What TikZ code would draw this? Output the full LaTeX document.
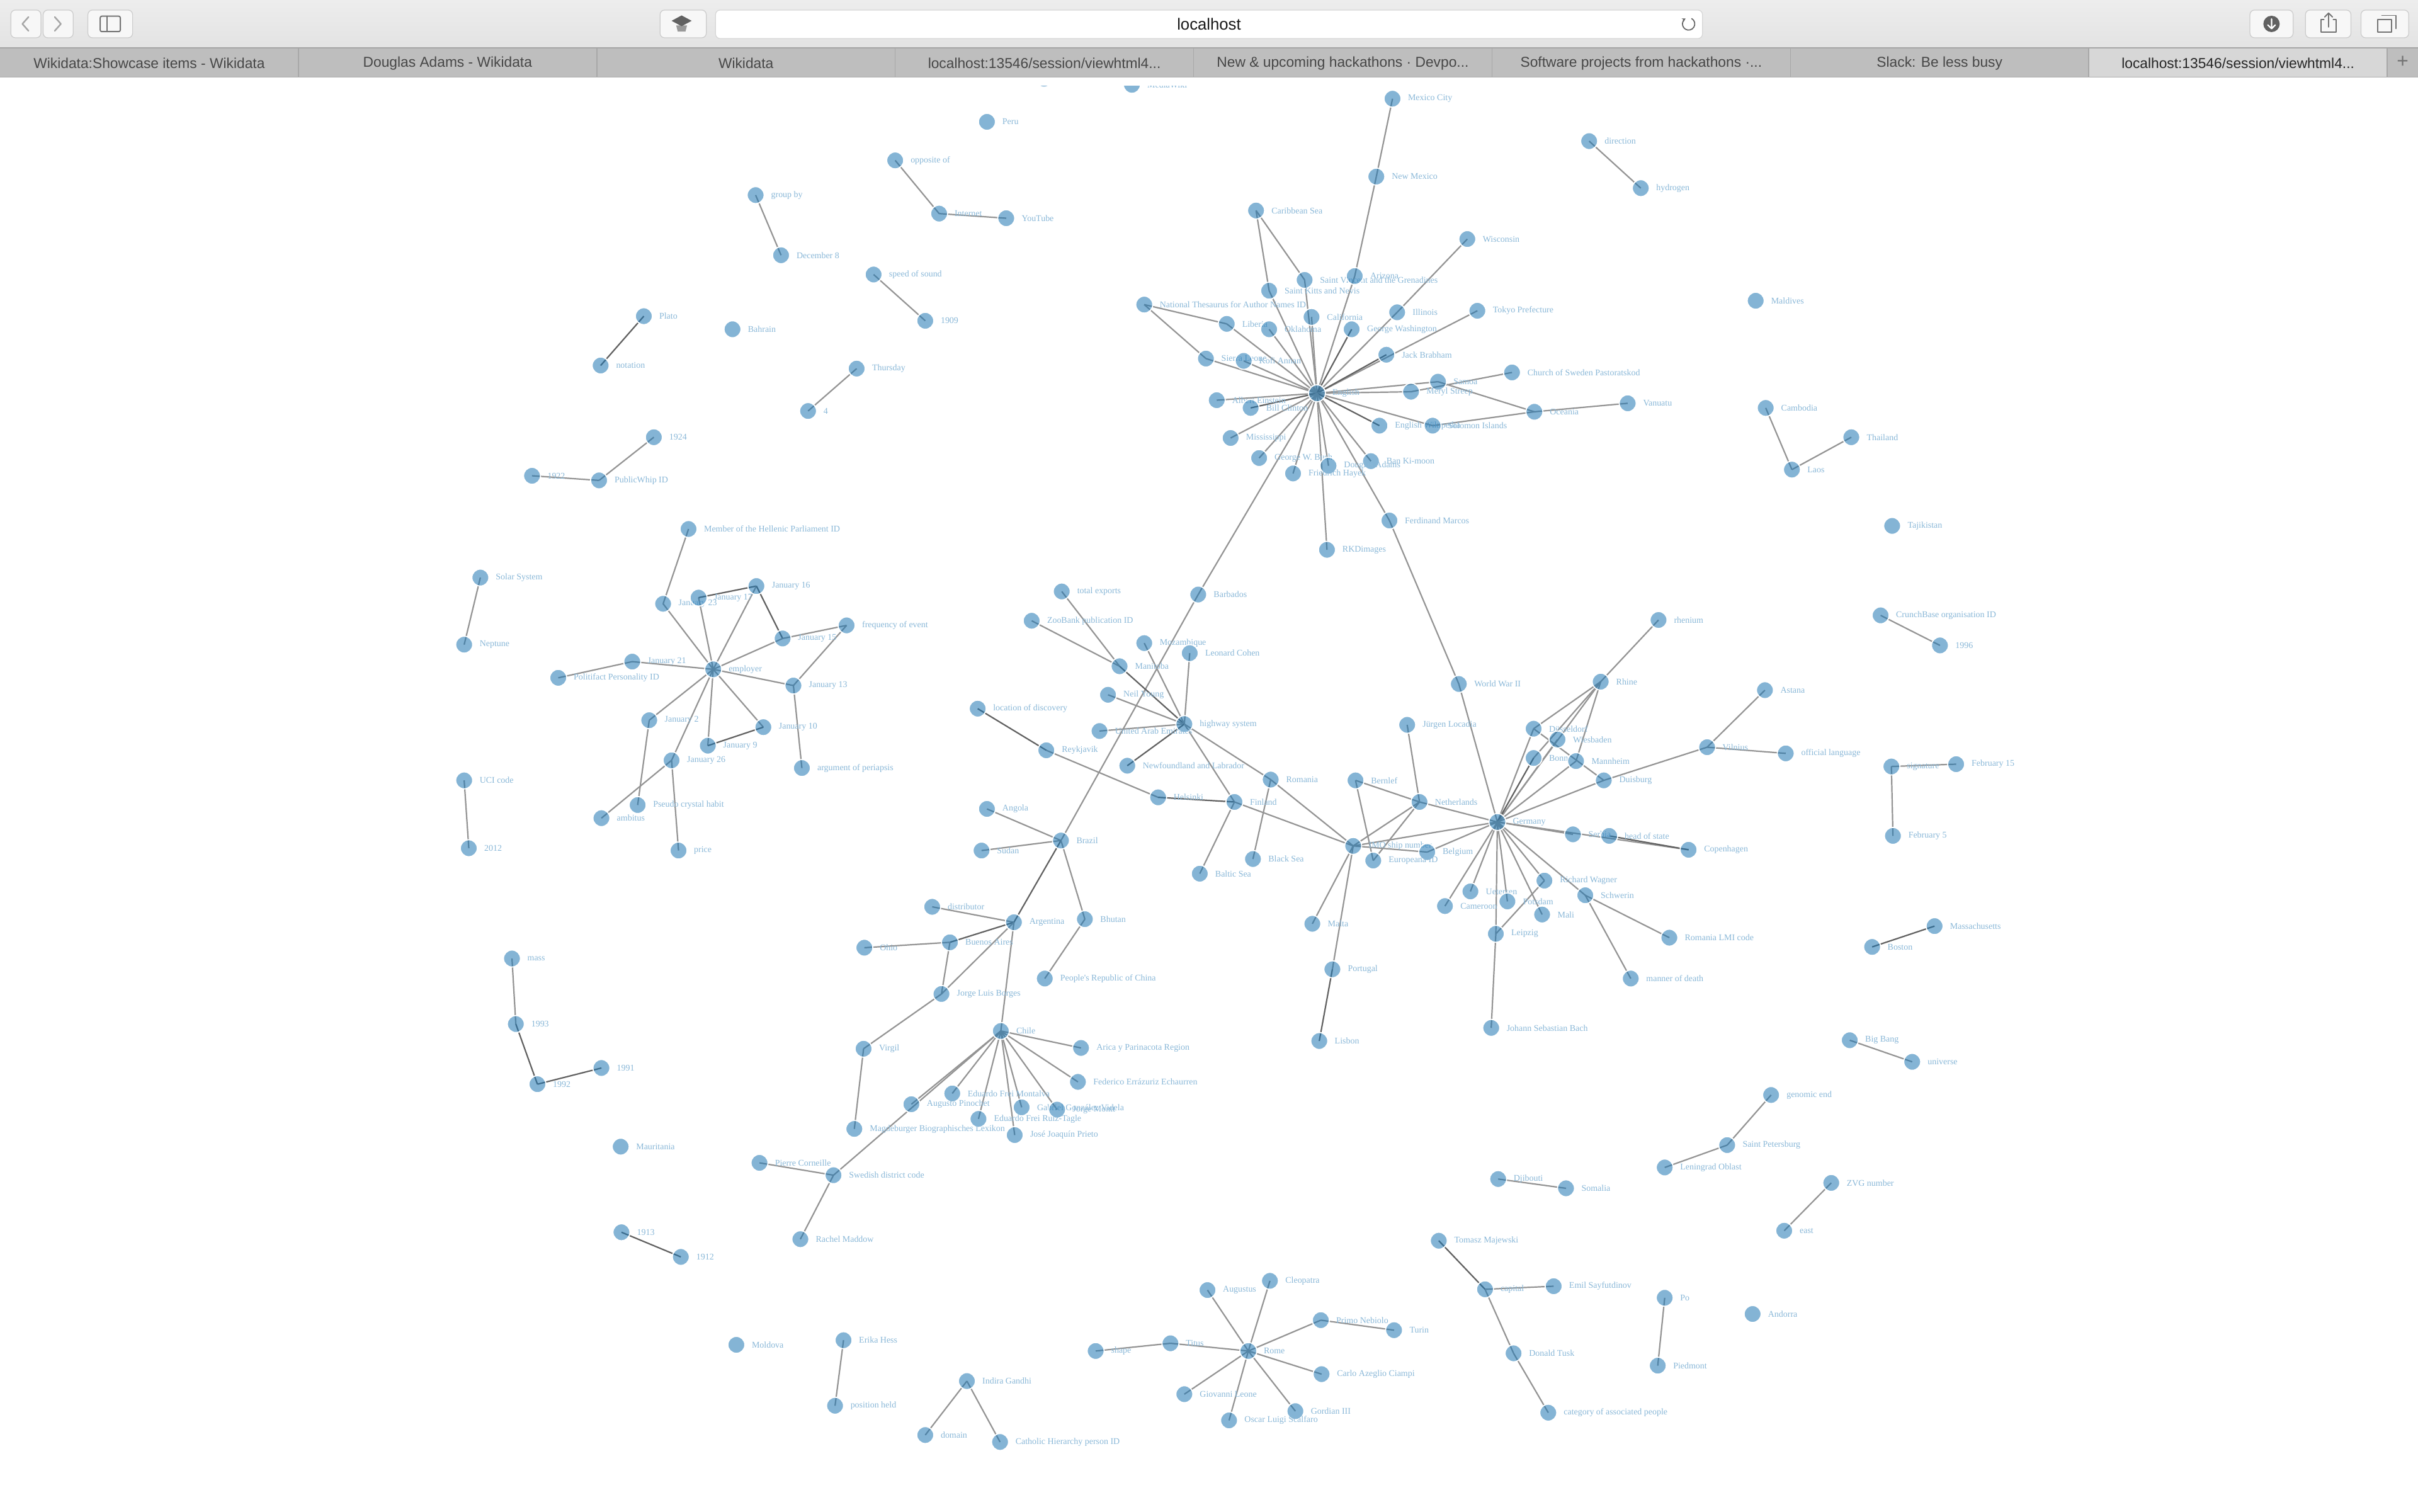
\documentclass[tikz,border=0pt]{standalone}
\usepackage{fontspec}
\usetikzlibrary{arrows.meta}
\newfontfamily\graphfont{Liberation Serif}
\newfontfamily\uifont{Liberation Sans}
\newcommand{\glabel}{\graphfont\fontsize{5.7}{6}\selectfont}
\newcommand{\tabfont}{\uifont\fontsize{9.3}{10}\selectfont}
\definecolor{nodeblue}{HTML}{1F77B4}
\colorlet{labelblue}{nodeblue!52!white}
\definecolor{toolbartop}{HTML}{EDEDED}
\definecolor{toolbarbot}{HTML}{E3E3E3}
\definecolor{tabgray}{HTML}{BEBEBE}
\definecolor{tabactive}{HTML}{D7D7D7}
\definecolor{tabsep}{HTML}{A8A8A8}
\pgfdeclarelayer{edges}
\pgfdeclarelayer{chrome}
\pgfsetlayers{edges,main,chrome}

\begin{document}
\begin{tikzpicture}[
  x=1pt, y=-1pt,
  gn/.style={circle, minimum size=11pt, inner sep=0pt, fill=nodeblue, fill opacity=0.55, draw=white, line width=0.7pt},
  lbl/.style={font=\glabel, text=labelblue, text opacity=1, inner sep=0pt, draw=none, fill=none},
  label distance=4pt,
  link/.style={draw=black!42, line width=0.9pt},
  dlink/.style={draw=black!62, line width=0.9pt},
  btn/.style={fill=white!97!black, draw=black!20, line width=0.5pt, rounded corners=3pt},
  tabtxt/.style={font=\tabfont, text=black!72, inner sep=0pt},
  icon/.style={draw=black!55, line width=1pt, line cap=round, line join=round},
]
\useasboundingbox (0,0) rectangle (1568,980);

% --- top left ---
\node[gn] (cutnode) at (677,51) {};
\node[gn, label={[lbl]right:MediaWiki}] (mediawiki) at (734,55) {};
\node[gn, label={[lbl]right:Peru}] (peru) at (640,79) {};
\node[gn, label={[lbl]right:opposite of}] (opposite) at (580.5,104) {};
\node[gn, label={[lbl]right:Internet}] (internet) at (609,138.5) {};
\node[gn, label={[lbl]right:YouTube}] (youtube) at (652.5,141.5) {};
\node[gn, label={[lbl]right:group by}] (groupby) at (490,126.5) {};
\node[gn, label={[lbl]right:December 8}] (dec8) at (506.5,165.5) {};
\node[gn, label={[lbl]right:speed of sound}] (speed) at (566.5,178) {};
\node[gn, label={[lbl]right:1909}] (y1909) at (600,208) {};
\node[gn, label={[lbl]right:Plato}] (plato) at (417.5,205) {};
\node[gn, label={[lbl]right:Bahrain}] (bahrain) at (475,213.5) {};
\node[gn, label={[lbl]right:notation}] (notation) at (389.5,237) {};
\node[gn, label={[lbl]right:Thursday}] (thursday) at (555.5,239) {};
\node[gn, label={[lbl]right:4}] (four) at (524,266.5) {};
\node[gn, label={[lbl]right:1924}] (y1924) at (424,283.5) {};
\node[gn, label={[lbl]right:1922}] (y1922) at (345,308.5) {};
\node[gn, label={[lbl]right:PublicWhip ID}] (pubwhip) at (388.5,311.5) {};

% --- employer ---
\node[gn, label={[lbl]right:Member of the Hellenic Parliament ID}] (hellenic) at (446.5,343) {};
\node[gn, label={[lbl]right:Solar System}] (solar) at (311.5,374.5) {};
\node[gn, label={[lbl]right:Neptune}] (neptune) at (301,418) {};
\node[gn, label={[lbl]right:January 23}] (jan23) at (430,391.5) {};
\node[gn, label={[lbl]right:January 17}] (jan17) at (453,387.5) {};
\node[gn, label={[lbl]right:January 16}] (jan16) at (490.5,380) {};
\node[gn, label={[lbl]right:January 15}] (jan15) at (507.5,414) {};
\node[gn, label={[lbl]right:frequency of event}] (freq) at (549,405.5) {};
\node[gn, label={[lbl]right:January 21}] (jan21) at (410,429) {};
\node[gn, label={[lbl]right:Politifact Personality ID}] (politifact) at (362,439.5) {};
\node[gn, label={[lbl]right:employer}] (employer) at (462.5,434) {};
\node[gn, label={[lbl]right:January 13}] (jan13) at (514.5,444.5) {};
\node[gn, label={[lbl]right:January 2}] (jan2) at (421,467) {};
\node[gn, label={[lbl]right:January 10}] (jan10) at (495,471.5) {};
\node[gn, label={[lbl]right:January 9}] (jan9) at (459,483.5) {};
\node[gn, label={[lbl]right:January 26}] (jan26) at (435.5,493) {};
\node[gn, label={[lbl]right:argument of periapsis}] (periapsis) at (520,498) {};
\node[gn, label={[lbl]right:UCI code}] (uci) at (301,506) {};
\node[gn, label={[lbl]right:2012}] (y2012) at (304,550) {};
\node[gn, label={[lbl]right:Pseudo crystal habit}] (pseudo) at (413.5,522) {};
\node[gn, label={[lbl]right:ambitus}] (ambitus) at (390,530.5) {};
\node[gn, label={[lbl]right:price}] (price) at (440,551.5) {};

% --- English ---
\node[gn, label={[lbl]right:Mexico City}] (mexcity) at (903,64) {};
\node[gn, label={[lbl]right:New Mexico}] (newmex) at (892.5,114.5) {};
\node[gn, label={[lbl]right:Caribbean Sea}] (carib) at (814.5,136.5) {};
\node[gn, label={[lbl]right:Wisconsin}] (wisconsin) at (951.5,155) {};
\node[gn, label={[lbl]right:direction}] (direction) at (1030.5,91.5) {};
\node[gn, label={[lbl]right:hydrogen}] (hydrogen) at (1064,122) {};
\node[gn, label={[lbl]right:Saint Vincent and the Grenadines}] (stvincent) at (846,181.5) {};
\node[gn, label={[lbl]right:Arizona}] (arizona) at (878.5,179) {};
\node[gn, label={[lbl]right:Saint Kitts and Nevis}] (stkitts) at (823,188.5) {};
\node[gn, label={[lbl]right:National Thesaurus for Author Names ID}] (natthes) at (742,197.5) {};
\node[gn, label={[lbl]right:California}] (california) at (850.5,205.5) {};
\node[gn, label={[lbl]right:Illinois}] (illinois) at (906,202.5) {};
\node[gn, label={[lbl]right:Tokyo Prefecture}] (tokyo) at (958,201.5) {};
\node[gn, label={[lbl]right:Liberia}] (liberia) at (795.5,210) {};
\node[gn, label={[lbl]right:Oklahoma}] (oklahoma) at (823,213.5) {};
\node[gn, label={[lbl]right:George Washington}] (gwashington) at (876.5,213.5) {};
\node[gn, label={[lbl]right:Jack Brabham}] (brabham) at (899,230) {};
\node[gn, label={[lbl]right:Sierra Leone}] (sierra) at (782,232.5) {};
\node[gn, label={[lbl]right:Kofi Annan}] (kofi) at (806.5,234) {};
\node[gn, label={[lbl]right:Church of Sweden Pastoratskod}] (church) at (980.5,241.5) {};
\node[gn, label={[lbl]right:Samoa}] (samoa) at (932.5,247.5) {};
\node[gn, label={[lbl]right:Meryl Streep}] (meryl) at (915,254) {};
\node[gn, label={[lbl]right:English}] (english) at (854,255) {};
\node[gn, label={[lbl]right:Albert Einstein}] (einstein) at (789,259.5) {};
\node[gn, label={[lbl]right:Bill Clinton}] (clinton) at (811,264.5) {};
\node[gn, label={[lbl]right:Vanuatu}] (vanuatu) at (1055.5,261.5) {};
\node[gn, label={[lbl]right:Oceania}] (oceania) at (995,267) {};
\node[gn, label={[lbl]right:English Wikipedia}] (enwiki) at (894.5,276) {};
\node[gn, label={[lbl]right:Solomon Islands}] (solomon) at (929,276) {};
\node[gn, label={[lbl]right:Mississippi}] (mississippi) at (798,284) {};
\node[gn, label={[lbl]right:George W. Bush}] (bush) at (816.5,297) {};
\node[gn, label={[lbl]right:Ban Ki-moon}] (bankimoon) at (889,299) {};
\node[gn, label={[lbl]right:Douglas Adams}] (dadams) at (861.5,302) {};
\node[gn, label={[lbl]right:Friedrich Hayek}] (hayek) at (838.5,307) {};
\node[gn, label={[lbl]right:Ferdinand Marcos}] (marcos) at (901,337.5) {};
\node[gn, label={[lbl]right:RKDimages}] (rkd) at (860.5,356.5) {};

% --- right side ---
\node[gn, label={[lbl]right:Maldives}] (maldives) at (1138.5,195) {};
\node[gn, label={[lbl]right:Cambodia}] (cambodia) at (1145,264.5) {};
\node[gn, label={[lbl]right:Thailand}] (thailand) at (1200.5,283.5) {};
\node[gn, label={[lbl]right:Laos}] (laos) at (1162,304.5) {};
\node[gn, label={[lbl]right:Tajikistan}] (tajikistan) at (1227,341) {};
\node[gn, label={[lbl]right:CrunchBase organisation ID}] (crunchbase) at (1219.5,399) {};
\node[gn, label={[lbl]right:1996}] (y1996) at (1258,418.5) {};
\node[gn, label={[lbl]right:signature}] (signature) at (1226.5,497) {};
\node[gn, label={[lbl]right:February 15}] (feb15) at (1268.5,495.5) {};
\node[gn, label={[lbl]right:February 5}] (feb5) at (1227.5,542) {};
\node[gn, label={[lbl]right:Massachusetts}] (massachusetts) at (1254.5,600.5) {};
\node[gn, label={[lbl]right:Boston}] (boston) at (1214,614) {};
\node[gn, label={[lbl]right:Big Bang}] (bigbang) at (1199.5,674.5) {};
\node[gn, label={[lbl]right:universe}] (universe) at (1240,688.5) {};
\node[gn, label={[lbl]right:genomic end}] (genomic) at (1148.5,710) {};
\node[gn, label={[lbl]right:Saint Petersburg}] (stpete) at (1120,742.5) {};
\node[gn, label={[lbl]right:Leningrad Oblast}] (leningrad) at (1079.5,757) {};
\node[gn, label={[lbl]right:ZVG number}] (zvg) at (1187.5,767) {};
\node[gn, label={[lbl]right:east}] (east) at (1157,798) {};
\node[gn, label={[lbl]right:Po}] (po) at (1079.5,841.5) {};
\node[gn, label={[lbl]right:Andorra}] (andorra) at (1136.5,852) {};
\node[gn, label={[lbl]right:Piedmont}] (piedmont) at (1075,885.5) {};

% --- highway system ---
\node[gn, label={[lbl]right:total exports}] (totalexp) at (688.5,383.5) {};
\node[gn, label={[lbl]right:Barbados}] (barbados) at (777,385.5) {};
\node[gn, label={[lbl]right:ZooBank publication ID}] (zoobank) at (669,402.5) {};
\node[gn, label={[lbl]right:Mozambique}] (mozambique) at (742,417) {};
\node[gn, label={[lbl]right:Leonard Cohen}] (cohen) at (771.5,423.5) {};
\node[gn, label={[lbl]right:Manitoba}] (manitoba) at (726,432) {};
\node[gn, label={[lbl]right:World War II}] (wwii) at (946,443.5) {};
\node[gn, label={[lbl]right:Neil Young}] (neilyoung) at (718.5,450.5) {};
\node[gn, label={[lbl]right:location of discovery}] (locdisc) at (634,459.5) {};
\node[gn, label={[lbl]right:highway system}] (highway) at (768,469.5) {};
\node[gn, label={[lbl]right:Jürgen Locadia}] (jurgen) at (912.5,470) {};
\node[gn, label={[lbl]right:United Arab Emirates}] (uae) at (713,474) {};
\node[gn, label={[lbl]right:Reykjavik}] (reykjavik) at (678.5,486.5) {};
\node[gn, label={[lbl]right:Newfoundland and Labrador}] (newfound) at (731,496.5) {};
\node[gn, label={[lbl]right:Romania}] (romania) at (824,505.5) {};
\node[gn, label={[lbl]right:Bernlef}] (bernlef) at (879,506) {};
\node[gn, label={[lbl]right:Helsinki}] (helsinki) at (751,517) {};
\node[gn, label={[lbl]right:Finland}] (finland) at (800.5,520) {};
\node[gn, label={[lbl]right:Netherlands}] (netherlands) at (920.5,520) {};
\node[gn, label={[lbl]right:Angola}] (angola) at (640,524.5) {};
\node[gn, label={[lbl]right:Brazil}] (brazil) at (688,545) {};
\node[gn, label={[lbl]right:IMO ship number}] (imo) at (877.5,548.5) {};
\node[gn, label={[lbl]right:Sudan}] (sudan) at (636.5,551.5) {};
\node[gn, label={[lbl]right:Belgium}] (belgium) at (925.5,552.5) {};
\node[gn, label={[lbl]right:Black Sea}] (blacksea) at (812.5,557) {};
\node[gn, label={[lbl]right:Europeana ID}] (europeana) at (890.5,558) {};
\node[gn, label={[lbl]right:Baltic Sea}] (balticsea) at (778,566.5) {};

% --- Germany ---
\node[gn, label={[lbl]right:rhenium}] (rhenium) at (1075.5,402) {};
\node[gn, label={[lbl]right:Rhine}] (rhine) at (1038,442) {};
\node[gn, label={[lbl]right:Astana}] (astana) at (1144.5,447.5) {};
\node[gn, label={[lbl]right:Düsseldorf}] (dusseldorf) at (994.5,472.5) {};
\node[gn, label={[lbl]right:Wiesbaden}] (wiesbaden) at (1010,479.5) {};
\node[gn, label={[lbl]right:Vilnius}] (vilnius) at (1107,484.5) {};
\node[gn, label={[lbl]right:official language}] (official) at (1158,488.5) {};
\node[gn, label={[lbl]right:Bonn}] (bonn) at (994.5,491.5) {};
\node[gn, label={[lbl]right:Mannheim}] (mannheim) at (1022,493.5) {};
\node[gn, label={[lbl]right:Duisburg}] (duisburg) at (1040,506) {};
\node[gn, label={[lbl]right:Germany}] (germany) at (971,533) {};
\node[gn, label={[lbl]right:Serbia}] (serbia) at (1020,541) {};
\node[gn, label={[lbl]right:head of state}] (headstate) at (1043.5,542) {};
\node[gn, label={[lbl]right:Copenhagen}] (copenhagen) at (1095,551) {};
\node[gn, label={[lbl]right:Richard Wagner}] (wagner) at (1001.5,571) {};
\node[gn, label={[lbl]right:Uetersen}] (uetersen) at (953.5,578) {};
\node[gn, label={[lbl]right:Schwerin}] (schwerin) at (1028,580.5) {};
\node[gn, label={[lbl]right:Potsdam}] (potsdam) at (977.5,584.5) {};
\node[gn, label={[lbl]right:Cameroon}] (cameroon) at (937,587.5) {};
\node[gn, label={[lbl]right:Mali}] (mali) at (1000,593) {};
\node[gn, label={[lbl]right:Malta}] (malta) at (851,599) {};
\node[gn, label={[lbl]right:Leipzig}] (leipzig) at (970,605.5) {};
\node[gn, label={[lbl]right:Romania LMI code}] (lmicode) at (1082.5,608) {};
\node[gn, label={[lbl]right:Portugal}] (portugal) at (864,628.5) {};
\node[gn, label={[lbl]right:manner of death}] (deathmanner) at (1057.5,634.5) {};
\node[gn, label={[lbl]right:Johann Sebastian Bach}] (bach) at (967,666.5) {};
\node[gn, label={[lbl]right:Lisbon}] (lisbon) at (855.5,675) {};

% --- Chile ---
\node[gn, label={[lbl]right:distributor}] (distributor) at (604.5,588) {};
\node[gn, label={[lbl]right:Bhutan}] (bhutan) at (703.5,596) {};
\node[gn, label={[lbl]right:Argentina}] (argentina) at (657.5,598) {};
\node[gn, label={[lbl]right:Buenos Aires}] (buenosaires) at (616,611) {};
\node[gn, label={[lbl]right:Ohio}] (ohio) at (560.5,614.5) {};
\node[gn, label={[lbl]right:People's Republic of China}] (prc) at (677.5,634.5) {};
\node[gn, label={[lbl]right:Jorge Luis Borges}] (borges) at (610.5,644.5) {};
\node[gn, label={[lbl]right:Chile}] (chile) at (649,668.5) {};
\node[gn, label={[lbl]right:Virgil}] (virgil) at (560,680) {};
\node[gn, label={[lbl]right:Arica y Parinacota Region}] (arica) at (701,679.5) {};
\node[gn, label={[lbl]right:Federico Errázuriz Echaurren}] (federico) at (699,701.5) {};
\node[gn, label={[lbl]right:Eduardo Frei Montalva}] (montalva) at (617.5,709) {};
\node[gn, label={[lbl]right:Augusto Pinochet}] (pinochet) at (591,716) {};
\node[gn, label={[lbl]right:Gabriel González Videla}] (gonzalez) at (662.5,718) {};
\node[gn, label={[lbl]right:Jorge Montt}] (montt) at (685.5,719.5) {};
\node[gn, label={[lbl]right:Eduardo Frei Ruiz-Tagle}] (ruiztagle) at (634.5,725.5) {};
\node[gn, label={[lbl]right:Magdeburger Biographisches Lexikon}] (magdeburger) at (554,732) {};
\node[gn, label={[lbl]right:José Joaquín Prieto}] (prieto) at (658,736) {};
\node[gn, label={[lbl]right:Pierre Corneille}] (corneille) at (492.5,754) {};
\node[gn, label={[lbl]right:Swedish district code}] (swedish) at (540.5,762) {};
\node[gn, label={[lbl]right:Rachel Maddow}] (maddow) at (519,803.5) {};

% --- bottom left ---
\node[gn, label={[lbl]right:mass}] (mass) at (332,621.5) {};
\node[gn, label={[lbl]right:1993}] (y1993) at (334.5,664) {};
\node[gn, label={[lbl]right:1991}] (y1991) at (390,692.5) {};
\node[gn, label={[lbl]right:1992}] (y1992) at (348.5,703) {};
\node[gn, label={[lbl]right:Mauritania}] (mauritania) at (402.5,743.5) {};
\node[gn, label={[lbl]right:1913}] (y1913) at (403,799) {};
\node[gn, label={[lbl]right:1912}] (y1912) at (441.5,815) {};
\node[gn, label={[lbl]right:Moldova}] (moldova) at (477.5,872) {};
\node[gn, label={[lbl]right:Erika Hess}] (erika) at (547,869) {};
\node[gn, label={[lbl]right:position held}] (posheld) at (541.5,911.5) {};
\node[gn, label={[lbl]right:Indira Gandhi}] (indira) at (627,895.5) {};
\node[gn, label={[lbl]right:domain}] (domain) at (600,930.5) {};
\node[gn, label={[lbl]right:Catholic Hierarchy person ID}] (catholic) at (648.5,935) {};

% --- Rome and capital ---
\node[gn, label={[lbl]right:Cleopatra}] (cleopatra) at (823.5,830.5) {};
\node[gn, label={[lbl]right:Augustus}] (augustus) at (783,836.5) {};
\node[gn, label={[lbl]right:Primo Nebiolo}] (primo) at (856.5,856) {};
\node[gn, label={[lbl]right:Turin}] (turin) at (904,862.5) {};
\node[gn, label={[lbl]right:Titus}] (titus) at (759,871) {};
\node[gn, label={[lbl]right:shape}] (shape) at (710.5,876) {};
\node[gn, label={[lbl]right:Rome}] (rome) at (809.5,876) {};
\node[gn, label={[lbl]right:Carlo Azeglio Ciampi}] (carlo) at (857,891) {};
\node[gn, label={[lbl]right:Giovanni Leone}] (giovanni) at (768,904) {};
\node[gn, label={[lbl]right:Gordian III}] (gordian) at (840,915) {};
\node[gn, label={[lbl]right:Oscar Luigi Scalfaro}] (oscar) at (797,921) {};
\node[gn, label={[lbl]right:Djibouti}] (djibouti) at (971.5,764.5) {};
\node[gn, label={[lbl]right:Somalia}] (somalia) at (1015.5,770.5) {};
\node[gn, label={[lbl]right:Tomasz Majewski}] (tomasz) at (933,804.5) {};
\node[gn, label={[lbl]right:capital}] (capital) at (963,836) {};
\node[gn, label={[lbl]right:Emil Sayfutdinov}] (emil) at (1007.5,834) {};
\node[gn, label={[lbl]right:Donald Tusk}] (tusk) at (981.5,877.5) {};
\node[gn, label={[lbl]right:category of associated people}] (category) at (1004,916) {};

\begin{pgfonlayer}{edges}
  \fill[white] (0,0) rectangle (1568,980);
  % small pairs
  \draw[link] (opposite.center) -- (internet.center);
  \draw[link] (internet.center) -- (youtube.center);
  \draw[link] (groupby.center) -- (dec8.center);
  \draw[link] (speed.center) -- (y1909.center);
  \draw[dlink] (plato.center) -- (notation.center);
  \draw[link] (thursday.center) -- (four.center);
  \draw[link] (y1924.center) -- (pubwhip.center);
  \draw[link] (y1922.center) -- (pubwhip.center);
  \draw[link] (solar.center) -- (neptune.center);
  \draw[link] (uci.center) -- (y2012.center);
  \draw[link] (direction.center) -- (hydrogen.center);
  \draw[link] (cambodia.center) -- (laos.center);
  \draw[link] (laos.center) -- (thailand.center);
  \draw[link] (crunchbase.center) -- (y1996.center);
  \draw[link] (signature.center) -- (feb15.center);
  \draw[link] (signature.center) -- (feb5.center);
  \draw[dlink] (massachusetts.center) -- (boston.center);
  \draw[link] (bigbang.center) -- (universe.center);
  \draw[link] (genomic.center) -- (stpete.center);
  \draw[link] (stpete.center) -- (leningrad.center);
  \draw[link] (zvg.center) -- (east.center);
  \draw[link] (po.center) -- (piedmont.center);
  \draw[link] (mass.center) -- (y1993.center);
  \draw[dlink] (y1993.center) -- (y1992.center);
  \draw[dlink] (y1992.center) -- (y1991.center);
  \draw[dlink] (y1913.center) -- (y1912.center);
  \draw[link] (erika.center) -- (posheld.center);
  \draw[link] (indira.center) -- (domain.center);
  \draw[link] (indira.center) -- (catholic.center);
  \draw[link] (djibouti.center) -- (somalia.center);

  % employer
  \draw[link] (hellenic.center) -- (jan23.center);
  \draw[link] (jan23.center) -- (employer.center);
  \draw[link] (jan17.center) -- (employer.center);
  \draw[dlink] (jan17.center) -- (jan16.center);
  \draw[link] (jan16.center) -- (employer.center);
  \draw[dlink] (jan16.center) -- (jan15.center);
  \draw[link] (jan15.center) -- (employer.center);
  \draw[link] (jan15.center) -- (freq.center);
  \draw[link] (freq.center) -- (jan13.center);
  \draw[link] (jan21.center) -- (employer.center);
  \draw[link] (jan21.center) -- (politifact.center);
  \draw[link] (employer.center) -- (jan13.center);
  \draw[link] (jan13.center) -- (periapsis.center);
  \draw[link] (employer.center) -- (jan2.center);
  \draw[link] (jan2.center) -- (pseudo.center);
  \draw[link] (employer.center) -- (jan26.center);
  \draw[link] (jan26.center) -- (ambitus.center);
  \draw[link] (jan26.center) -- (price.center);
  \draw[link] (employer.center) -- (jan9.center);
  \draw[link] (employer.center) -- (jan10.center);
  \draw[dlink] (jan9.center) -- (jan10.center);

  % English
  \draw[link] (mexcity.center) -- (newmex.center);
  \draw[link] (newmex.center) -- (arizona.center);
  \draw[link] (arizona.center) -- (english.center);
  \draw[link] (carib.center) -- (stvincent.center);
  \draw[link] (carib.center) -- (stkitts.center);
  \draw[link] (stvincent.center) -- (english.center);
  \draw[link] (stkitts.center) -- (english.center);
  \draw[link] (wisconsin.center) -- (illinois.center);
  \draw[link] (illinois.center) -- (english.center);
  \draw[link] (tokyo.center) -- (english.center);
  \draw[dlink] (brabham.center) -- (english.center);
  \draw[link] (natthes.center) -- (liberia.center);
  \draw[link] (natthes.center) -- (sierra.center);
  \draw[link] (liberia.center) -- (english.center);
  \draw[link] (sierra.center) -- (english.center);
  \draw[link] (california.center) -- (english.center);
  \draw[link] (oklahoma.center) -- (english.center);
  \draw[dlink] (gwashington.center) -- (english.center);
  \draw[link] (kofi.center) -- (english.center);
  \draw[link] (church.center) -- (meryl.center);
  \draw[link] (meryl.center) -- (english.center);
  \draw[link] (samoa.center) -- (english.center);
  \draw[link] (samoa.center) -- (oceania.center);
  \draw[link] (oceania.center) -- (vanuatu.center);
  \draw[link] (oceania.center) -- (solomon.center);
  \draw[link] (solomon.center) -- (english.center);
  \draw[dlink] (enwiki.center) -- (english.center);
  \draw[link] (einstein.center) -- (english.center);
  \draw[dlink] (clinton.center) -- (english.center);
  \draw[link] (mississippi.center) -- (english.center);
  \draw[link] (bush.center) -- (english.center);
  \draw[link] (hayek.center) -- (english.center);
  \draw[link] (dadams.center) -- (english.center);
  \draw[link] (bankimoon.center) -- (english.center);
  \draw[link] (english.center) -- (marcos.center);
  \draw[link] (marcos.center) -- (wwii.center);
  \draw[link] (english.center) -- (rkd.center);
  \draw[link] (english.center) -- (barbados.center);
  \draw[link] (barbados.center) -- (brazil.center);

  % highway system
  \draw[link] (totalexp.center) -- (manitoba.center);
  \draw[link] (zoobank.center) -- (manitoba.center);
  \draw[dlink] (manitoba.center) -- (highway.center);
  \draw[link] (mozambique.center) -- (highway.center);
  \draw[link] (cohen.center) -- (highway.center);
  \draw[link] (neilyoung.center) -- (highway.center);
  \draw[link] (uae.center) -- (highway.center);
  \draw[dlink] (newfound.center) -- (highway.center);
  \draw[link] (highway.center) -- (romania.center);
  \draw[link] (highway.center) -- (finland.center);
  \draw[dlink] (locdisc.center) -- (reykjavik.center);
  \draw[link] (reykjavik.center) -- (helsinki.center);
  \draw[dlink] (helsinki.center) -- (finland.center);
  \draw[link] (finland.center) -- (balticsea.center);
  \draw[link] (finland.center) -- (imo.center);
  \draw[link] (romania.center) -- (blacksea.center);
  \draw[link] (romania.center) -- (imo.center);
  \draw[link] (jurgen.center) -- (netherlands.center);
  \draw[link] (bernlef.center) -- (netherlands.center);
  \draw[link] (bernlef.center) -- (europeana.center);
  \draw[link] (netherlands.center) -- (imo.center);
  \draw[link] (netherlands.center) -- (europeana.center);
  \draw[link] (netherlands.center) -- (germany.center);
  \draw[link] (imo.center) -- (belgium.center);
  \draw[link] (imo.center) -- (germany.center);
  \draw[link] (belgium.center) -- (germany.center);
  \draw[link] (imo.center) -- (malta.center);
  \draw[link] (imo.center) -- (portugal.center);
  \draw[dlink] (portugal.center) -- (lisbon.center);
  \draw[link] (wwii.center) -- (germany.center);

  % Germany
  \draw[link] (rhine.center) -- (rhenium.center);
  \draw[link] (rhine.center) -- (dusseldorf.center);
  \draw[link] (rhine.center) -- (germany.center);
  \draw[link] (rhine.center) -- (bonn.center);
  \draw[link] (rhine.center) -- (mannheim.center);
  \draw[link] (dusseldorf.center) -- (duisburg.center);
  \draw[link] (germany.center) -- (dusseldorf.center);
  \draw[link] (germany.center) -- (wiesbaden.center);
  \draw[dlink] (germany.center) -- (bonn.center);
  \draw[link] (germany.center) -- (mannheim.center);
  \draw[link] (germany.center) -- (duisburg.center);
  \draw[link] (vilnius.center) -- (duisburg.center);
  \draw[link] (vilnius.center) -- (astana.center);
  \draw[link] (vilnius.center) -- (official.center);
  \draw[link] (germany.center) -- (serbia.center);
  \draw[link] (germany.center) -- (copenhagen.center);
  \draw[dlink] (headstate.center) -- (copenhagen.center);
  \draw[link] (germany.center) -- (wagner.center);
  \draw[link] (wagner.center) -- (leipzig.center);
  \draw[link] (germany.center) -- (schwerin.center);
  \draw[link] (schwerin.center) -- (lmicode.center);
  \draw[link] (schwerin.center) -- (deathmanner.center);
  \draw[link] (germany.center) -- (uetersen.center);
  \draw[link] (germany.center) -- (cameroon.center);
  \draw[link] (germany.center) -- (potsdam.center);
  \draw[link] (germany.center) -- (mali.center);
  \draw[link] (germany.center) -- (leipzig.center);
  \draw[link] (leipzig.center) -- (bach.center);

  % Brazil and Chile
  \draw[link] (angola.center) -- (brazil.center);
  \draw[link] (sudan.center) -- (brazil.center);
  \draw[dlink] (brazil.center) -- (argentina.center);
  \draw[link] (brazil.center) -- (bhutan.center);
  \draw[link] (bhutan.center) -- (prc.center);
  \draw[link] (distributor.center) -- (argentina.center);
  \draw[dlink] (buenosaires.center) -- (argentina.center);
  \draw[link] (ohio.center) -- (buenosaires.center);
  \draw[link] (buenosaires.center) -- (borges.center);
  \draw[link] (argentina.center) -- (borges.center);
  \draw[link] (borges.center) -- (virgil.center);
  \draw[link] (virgil.center) -- (magdeburger.center);
  \draw[link] (argentina.center) -- (chile.center);
  \draw[link] (chile.center) -- (arica.center);
  \draw[link] (chile.center) -- (federico.center);
  \draw[link] (chile.center) -- (montalva.center);
  \draw[link] (chile.center) -- (pinochet.center);
  \draw[link] (chile.center) -- (swedish.center);
  \draw[link] (chile.center) -- (ruiztagle.center);
  \draw[link] (chile.center) -- (gonzalez.center);
  \draw[link] (chile.center) -- (montt.center);
  \draw[link] (chile.center) -- (prieto.center);
  \draw[link] (corneille.center) -- (swedish.center);
  \draw[link] (swedish.center) -- (maddow.center);

  % Rome and capital
  \draw[link] (rome.center) -- (augustus.center);
  \draw[link] (rome.center) -- (cleopatra.center);
  \draw[link] (rome.center) -- (primo.center);
  \draw[link] (primo.center) -- (turin.center);
  \draw[link] (rome.center) -- (titus.center);
  \draw[link] (titus.center) -- (shape.center);
  \draw[link] (rome.center) -- (carlo.center);
  \draw[link] (rome.center) -- (giovanni.center);
  \draw[link] (rome.center) -- (gordian.center);
  \draw[link] (rome.center) -- (oscar.center);
  \draw[dlink] (tomasz.center) -- (capital.center);
  \draw[link] (capital.center) -- (emil.center);
  \draw[link] (capital.center) -- (tusk.center);
  \draw[link] (tusk.center) -- (category.center);
\end{pgfonlayer}

% browser window
\begin{pgfonlayer}{chrome}
  \fill[white] (0,50) rectangle (1568,55.5);
  \shade[top color=toolbartop, bottom color=toolbarbot] (0,0) rectangle (1568,31);
  \fill[tabgray] (0,31) rectangle (1568,50);
  \fill[tabactive] (1354.5,31.5) rectangle (1548,50);
  \draw[black!35, line width=1pt] (0,31) -- (1568,31);
  \draw[black!32, line width=0.6pt] (0,50) -- (1568,50);
  \foreach \x in {193.5,387,580.5,774,967.5,1161,1354.5,1548}
    \draw[tabsep, line width=0.6pt] (\x,31.5) -- (\x,50);
  \node[tabtxt] (tab1) at (96.75,41) {Wikidata:Showcase items - Wikidata};
  \node[tabtxt] (tab2) at (290.25,41) {Douglas Adams - Wikidata};
  \node[tabtxt] (tab3) at (483.75,41) {Wikidata};
  \node[tabtxt] (tab4) at (677.25,41) {localhost:13546/session/viewhtml4...};
  \node[tabtxt] (tab5) at (870.75,41) {New \& upcoming hackathons · Devpo...};
  \node[tabtxt] (tab6) at (1064.25,41) {Software projects from hackathons ·...};
  \node[tabtxt] (tab7) at (1257.75,41) {Slack: Be less busy};
  \node[tabtxt, text=black!85] (tab8) at (1451.25,41) {localhost:13546/session/viewhtml4...};
  \node[tabtxt, font=\uifont\fontsize{13}{13}\selectfont, text=black!55] (newtab) at (1558,40) {+};

  % toolbar buttons
  \draw[btn] (7,6.5) rectangle (26.5,24.5);
  \draw[btn] (28,6.5) rectangle (47.5,24.5);
  \draw[btn] (57,6.5) rectangle (86,24.5);
  \draw[icon, black!35] (18.5,11) -- (14.5,15.5) -- (18.5,20);
  \draw[icon, black!35] (35.5,11) -- (39.5,15.5) -- (35.5,20);
  \draw[icon, line width=0.8pt, rounded corners=1pt] (65,10.5) rectangle (78,20.5);
  \draw[icon, line width=0.8pt] (69.5,10.5) -- (69.5,20.5);
  \draw[btn] (428,6.5) rectangle (458,24.5);
  \fill[black!40] (438.5,16.5) -- (445.5,16.5) -- (444.5,20.5) -- (439.5,20.5) -- cycle;
  \fill[black!62] (435.5,13.5) -- (442,10) -- (448.5,13.5) -- (442,17) -- cycle;
  \draw[btn, fill=white, draw=black!16] (464,6.5) rectangle (1104,25);
  \node[font=\uifont\fontsize{10.5}{11}\selectfont, text=black!90, inner sep=0pt] (url) at (784,15.8) {localhost};
  \draw[icon, line width=0.7pt, black!60, -{Stealth[length=2.2pt,width=2.6pt]}] (1095,15.5) ++(-60:4) arc[start angle=-60, end angle=240, radius=4];
  \draw[btn] (1459,6.5) rectangle (1487,24.5);
  \draw[btn] (1495,6.5) rectangle (1524.5,24.5);
  \draw[btn] (1531,6.5) rectangle (1562,24.5);
  \fill[black!62] (1473,15.5) circle[radius=5.3];
  \draw[white, line width=0.9pt, line cap=round, line join=round] (1473,12.3) -- (1473,18.5) (1470.6,16.2) -- (1473,18.6) -- (1475.4,16.2);
  \draw[icon, line width=0.8pt] (1507,12.5) -- (1505,12.5) -- (1505,21) -- (1515,21) -- (1515,12.5) -- (1513,12.5);
  \draw[icon, line width=0.8pt] (1510,17.5) -- (1510,8.5) (1507.5,11) -- (1510,8.5) -- (1512.5,11);
  \draw[icon, line width=0.8pt] (1542,12.5) rectangle (1551,21);
  \draw[icon, line width=0.8pt] (1544.5,10) -- (1553.5,10) -- (1553.5,18.5);
\end{pgfonlayer}
\end{tikzpicture}
\end{document}
